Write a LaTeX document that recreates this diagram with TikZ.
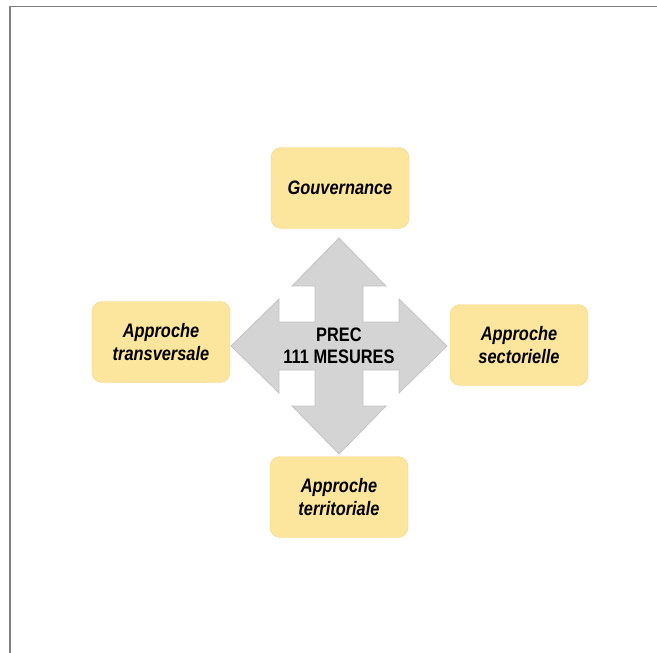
\documentclass[tikz,border=0pt]{standalone}
\usepackage{fontspec}
\usepackage{tikz}
\usetikzlibrary{calc,positioning}
\newfontfamily\narrowsans[FakeStretch=0.84]{Liberation Sans}
\definecolor{boxfill}{RGB}{252,229,156}
\definecolor{boxline}{RGB}{240,214,140}
\definecolor{arrowfill}{RGB}{212,212,212}
\definecolor{arrowline}{RGB}{196,196,196}
\definecolor{framegray}{RGB}{128,128,128}

\begin{document}
\begin{tikzpicture}[x=1pt,y=-1pt]
          \tikzstyle{approche} = [draw=boxline, fill=boxfill, rounded corners=10pt, minimum width=138pt, minimum height=81pt, align=center, font=\narrowsans\fontsize{19.5}{23}\selectfont\bfseries\itshape]
          \tikzstyle{centre} = [align=center, font=\narrowsans\fontsize{19.5}{22}\selectfont\bfseries]
          \useasboundingbox (0,0) rectangle (657,653);

          % cadre
          \draw[framegray, line width=1.8pt] (10,653) -- (10,6.5) -- (657,6.5);

          % fleche a quatre branches
          \coordinate (c) at (339,346);
          \begin{scope}[shift={(c)}]
            \draw[arrowline, fill=arrowfill, line width=0.8pt]
              (0,-108) -- (47,-60) -- (24,-60) -- (24,-24) -- (60,-24) -- (60,-47)
              -- (108,0) -- (60,47) -- (60,24) -- (24,24) -- (24,60) -- (47,60)
              -- (0,108) -- (-47,60) -- (-24,60) -- (-24,24) -- (-60,24) -- (-60,47)
              -- (-108,0) -- (-60,-47) -- (-60,-24) -- (-24,-24) -- (-24,-60) -- (-47,-60)
              -- cycle;
          \end{scope}
          \node[centre] (prec) at (c) {PREC\\111 MESURES};

          \node[approche] (gouv) at (340,188) {Gouvernance};
          \node[approche] (transv) at (161,342) {Approche\\transversale};
          \node[approche] (sect) at (519,345) {Approche\\sectorielle};
          \node[approche] (terr) at (339,497) {Approche\\territoriale};
        \end{tikzpicture}
\end{document}
